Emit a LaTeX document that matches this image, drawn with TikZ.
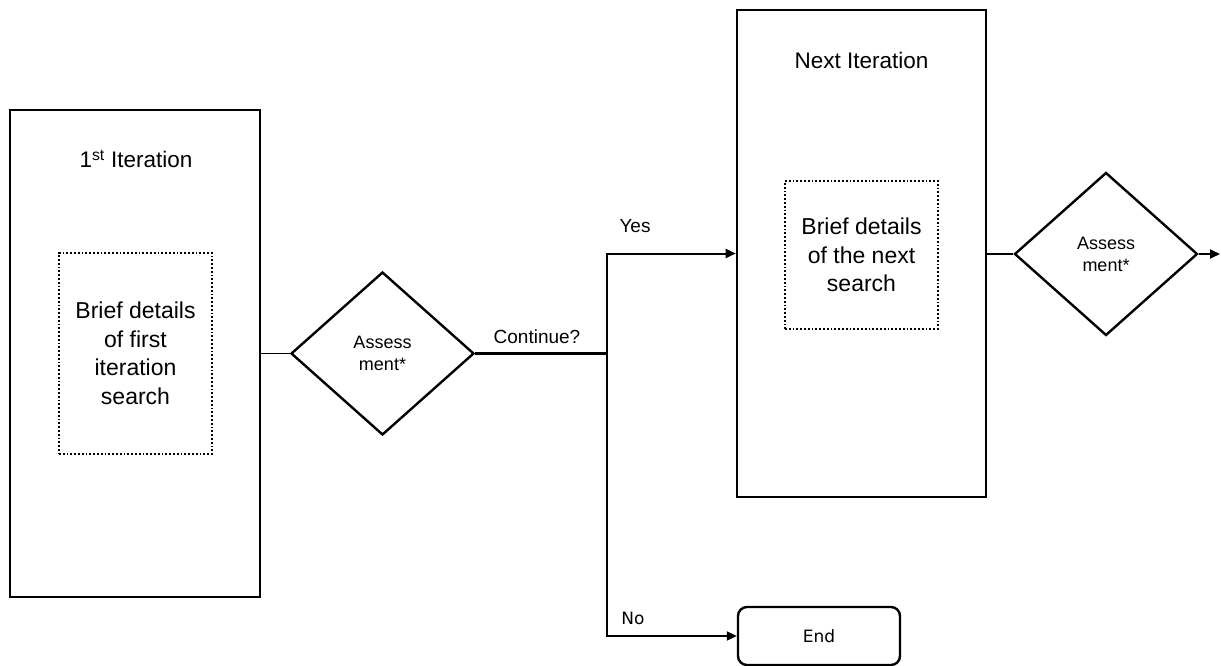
\documentclass[tikz,border=0pt]{standalone}
\usepackage{fontspec}
\setmainfont{Liberation Sans}
\newfontfamily\endfont{DejaVu Sans}
\usetikzlibrary{shapes.geometric,arrows.meta}
\begin{document}
\begin{tikzpicture}[x=1pt,y=-1pt,
  iterbox/.style={draw,line width=2.6pt,minimum width=#1,inner sep=0pt},
  detailbox/.style={draw,dotted,line width=1.8pt,inner sep=0pt,align=center,font=\fontsize{23}{28.5}\selectfont},
  assess/.style={draw,diamond,line width=2.4pt,minimum width=183pt,minimum height=163pt,inner sep=0pt,align=center,font=\fontsize{18}{22}\selectfont},
  endbox/.style={draw,rounded corners=9pt,line width=2.4pt,minimum width=162pt,minimum height=58pt,inner sep=0pt,font=\endfont\fontsize{17}{20}\selectfont},
  lbl/.style={font=\fontsize{19}{22}\selectfont,inner sep=0pt},
  ttl/.style={font=\fontsize{22.5}{26}\selectfont,inner sep=0pt},
  link/.style={line width=2pt},
  tip/.style={-{Triangle[length=10pt,width=9pt]}}
]
\useasboundingbox (0,0) rectangle (1221,666);

% first iteration
\node[iterbox=250pt,minimum height=487pt] (first) at (135,353.5) {};
\node[ttl] (firstttl) at (136,159) {1\textsuperscript{st} Iteration};
\node[detailbox,minimum width=153pt,minimum height=201pt] (firstdet) at (135.5,353.5)
  {Brief details\\of first\\iteration\\search};

% first assessment
\node[assess] (assessA) at (382.5,353.5) {Assess\\ment*};
\draw[line width=1.7pt] (first.east |- assessA.west) -- (assessA.west);

% decision junction
\coordinate (junc) at (607,353.5);
\draw[line width=3.2pt] (assessA.east) -- (junc);
\node[lbl] (cont) at (537,337) {Continue?};

% next iteration
\node[iterbox=249pt,minimum height=487pt] (next) at (861.5,253.5) {};
\node[ttl] (nextttl) at (861.5,60) {Next Iteration};
\node[detailbox,minimum width=153pt,minimum height=148pt] (nextdet) at (861.5,255)
  {Brief details\\of the next\\search};

% end
\node[endbox] (end) at (819,636) {End};

\draw[link,tip] (junc) |- (next.west);
\draw[link,tip] (junc) |- (end.west);
\node[lbl] (yes) at (635,226) {Yes};
\node[lbl,font=\endfont\fontsize{17}{20}\selectfont] (no) at (633,618) {No};

% second assessment
\node[assess] (assessB) at (1106,254) {Assess\\ment*};
\draw[line width=1.7pt] (next.east |- assessB.west) -- (assessB.west);
\coordinate (out) at (1220,254);
\draw[link,tip] (assessB.east) -- (out);
\end{tikzpicture}
\end{document}
